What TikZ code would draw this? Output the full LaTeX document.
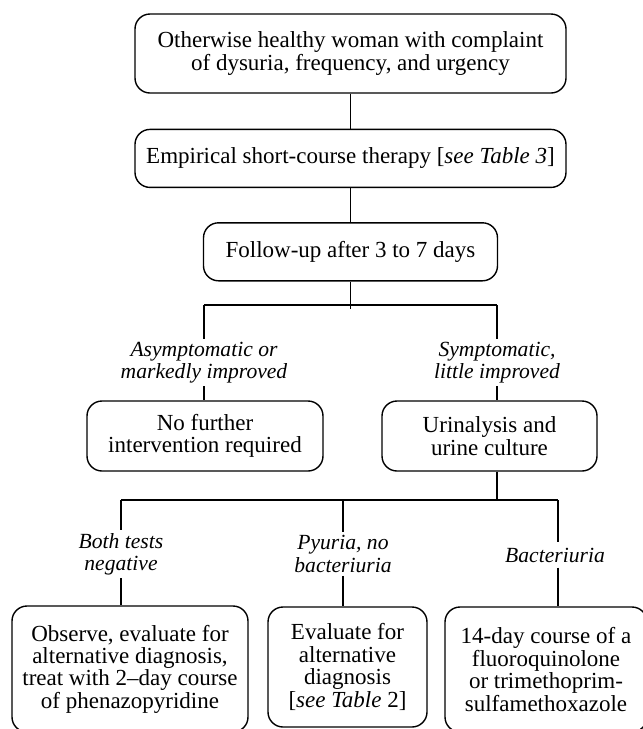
\documentclass[tikz,border=0pt]{standalone}
\usepackage{fontspec}
\setmainfont{Liberation Serif}
\usetikzlibrary{positioning,calc}
\tikzset{
  box/.style={rectangle, rounded corners=7.5pt, draw=black, line width=0.7pt, align=center, inner sep=0pt},
  cond/.style={font=\fontsize{10.8}{11.1}\selectfont\itshape, align=center, inner sep=1.5pt},
  connect/.style={line width=0.65pt}
}

\begin{document}
\begin{tikzpicture}[x=0.5pt, y=-0.5pt, every node/.style={font=\fontsize{11.5}{11.2}\selectfont}]
  \useasboundingbox (0,0) rectangle (643,729);

  % Draw the main chain: complaint, therapy, follow-up
  \node[box, minimum width=215.5pt, minimum height=39.5pt] (woman) at (350.5,53.5)
    {Otherwise healthy woman with complaint\\of dysuria, frequency, and urgency};
  \node[box, minimum width=215.5pt, minimum height=29pt, below=17.5pt of woman] (therapy)
    {Empirical short-course therapy [\textit{see Table 3}]};
  \node[box, minimum width=147pt, minimum height=29pt, below=17pt of therapy] (followup)
    {Follow-up after 3 to 7 days};
  \path (woman) edge [connect] (therapy);
  \path (therapy) edge [connect] (followup);

  % First split: improved or not
  \path (followup.south) ++(0,27) coordinate (fork1);
  \coordinate (asym) at (204,305);
  \coordinate (symp) at (497,305);
  \node[cond] (asymlbl) at (204,362.5) {Asymptomatic or\\markedly improved};
  \node[cond] (symplbl) at (497,362.5) {Symptomatic,\\little improved};
  \node[box, minimum width=118pt, minimum height=35pt] (nofurther) at (205,436)
    {No further\\intervention required};
  \node[box, minimum width=107.5pt, minimum height=35pt] (urine) at (489.5,436)
    {Urinalysis and\\urine culture};
  \draw[connect] (followup) -- (fork1);
  \draw[connect] (asym) -- (symp);
  \draw[connect] (asym) -- (asymlbl);
  \draw[connect] (asymlbl) -- (asymlbl |- nofurther.north);
  \draw[connect] (symp) -- (symplbl);
  \draw[connect] (symplbl) -- (symplbl |- urine.north);

  % Second split: test results
  \coordinate (fork2) at (497,500);
  \coordinate (neg) at (121,500);
  \coordinate (pyu) at (343,500);
  \coordinate (bac) at (558,500);
  \node[cond] (neglbl) at (121,554) {Both tests\\negative};
  \node[cond] (pyulbl) at (343,554) {Pyuria, no\\bacteriuria};
  \node[cond, inner sep=2.5pt] (baclbl) at (555,555) {Bacteriuria};
  \node[box, minimum width=118pt, minimum height=63pt] (observe) at (130,669)
    {Observe, evaluate for\\alternative diagnosis,\\treat with 2--day course\\of phenazopyridine};
  \node[box, minimum width=79.5pt, minimum height=60pt] (evaluate) at (347.5,667)
    {Evaluate for\\alternative\\diagnosis\\{[}\textit{see Table} 2{]}};
  \node[box, minimum width=101pt, minimum height=62.5pt] (fluoro) at (546,669.5)
    {14-day course of a\\fluoroquinolone\\or trimethoprim-\\sulfamethoxazole};
  \draw[connect] (urine.south -| fork2) -- (fork2);
  \draw[connect] (neg) -- (bac);
  \draw[connect] (neg) -- (neg |- neglbl.north);
  \draw[connect] (neglbl) -- (neglbl |- observe.north);
  \draw[connect] (pyu) -- (pyu |- pyulbl.north);
  \draw[connect] (pyulbl) -- (pyulbl |- evaluate.north);
  \draw[connect] (bac) -- (bac |- baclbl.north);
  \draw[connect] (bac |- baclbl.south) -- (bac |- fluoro.north);
\end{tikzpicture}
\end{document}
